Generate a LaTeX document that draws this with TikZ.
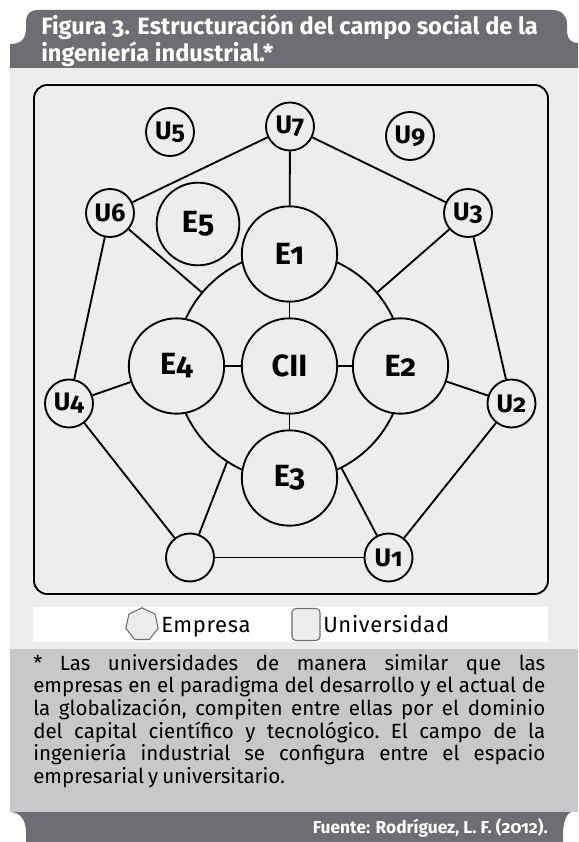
\documentclass[tikz,border=0pt]{standalone}
\usepackage{fontspec}
\setmainfont{Fira Sans}[Numbers=OldStyle]
\newfontfamily\notefont{Fira Sans}[Numbers=OldStyle, WordSpace={0.75,1,0.45}]
\usetikzlibrary{shapes.geometric}

\definecolor{bandGray}{RGB}{109,110,113}
\definecolor{panelGray}{RGB}{236,237,236}
\definecolor{noteGray}{RGB}{200,200,202}
\definecolor{keyGray}{RGB}{110,110,110}

\begin{document}
\begin{tikzpicture}[
  x=0.75pt, y=-0.75pt,
  every node/.style={align=center},
  university/.style={circle, draw, line width=1.4pt, fill=panelGray, inner sep=0pt, minimum size=36pt, font=\fontsize{19}{19}\selectfont\bfseries},
  company/.style={circle, draw, line width=1.4pt, fill=panelGray, inner sep=0pt, minimum size=71.5pt, font=\fontsize{23}{23}\selectfont\bfseries},
  ring/.style={circle, draw, line width=1.4pt, inner sep=0pt, minimum size=171pt},
  link/.style={line width=1.4pt},
  keyshape/.style={draw=keyGray, fill=panelGray, line width=0.8pt, inner sep=0pt},
  keytext/.style={anchor=base west, inner sep=0pt, font=\fontsize{16.5}{18}\selectfont\addfontfeatures{LetterSpace=3}}]

\useasboundingbox (0,0) rectangle (578,842);

% Title band, panels and source band
\fill[bandGray] (10,68) -- (10,44) .. controls (22,44) and (26,38) .. (26,28) -- (26,22)
  .. controls (26,14) and (30,10) .. (38,10) -- (552,10) .. controls (562,10) and (567,16) .. (567,24)
  -- (567,30) .. controls (567,40) and (572,43) .. (578,43) -- (578,68) -- cycle;
\fill[panelGray] (10,68) rectangle (578,649);
\fill[white] (33,607) rectangle (548,642);
\fill[noteGray] (10,649) rectangle (578,812);
\fill[bandGray] (10,812) .. controls (20,812) and (26,820) .. (26,832) -- (26,842) -- (563,842)
  -- (563,834) .. controls (563,822) and (567,812) .. (572,812) -- cycle;
\draw[line width=1.4pt, rounded corners=10pt] (34,85) rectangle (548,594);

\node[anchor=north west, inner sep=0pt, align=left, text=white, font=\fontsize{17.7}{17.2}\selectfont\bfseries] (title) at (41,15)
  {Figura 3. Estructuración del campo social de la\\ingeniería industrial.*};

% Field: the ring first, the circles over it
\node[ring] (ring) at (289.5,366) {};

\node[university] (universityFive) at (170,132) {U5};
\node[university] (universitySeven) at (290,126.5) {U7};
\node[university] (universityNine) at (410,136) {U9};
\node[university] (universitySix) at (110,213) {U6};
\node[university] (universityThree) at (468,213) {U3};
\node[university] (universityFour) at (69,403.5) {U4};
\node[university] (universityTwo) at (511.5,403.5) {U2};
\node[university] (universityOne) at (388.5,557.5) {U1};
\node[university] (universityBlank) at (190,557.5) {};

\node[company, minimum size=62pt] (companyFive) at (198,224) {E5};
\node[company] (companyOne) at (289.5,254) {E1};
\node[company] (cii) at (289.5,366) {CII};
\node[company] (companyFour) at (176.5,366) {E4};
\node[company] (companyTwo) at (400.5,366) {E2};
\node[company] (companyThree) at (289.5,478) {E3};

% Links
\draw[link] (universitySeven) -- (universitySix);
\draw[link] (universitySeven) -- (companyOne);
\draw[link] (universitySeven) -- (universityThree);
\draw[link] (universitySix) -- (ring.140);
\draw[link] (universityThree) -- (ring.40);
\draw[link] (universitySix) -- (universityFour);
\draw[link] (universityThree) -- (universityTwo);
\draw[link] (universityFour) -- (companyFour);
\draw[link] (universityTwo) -- (companyTwo);
\draw[link] (universityFour) -- (universityBlank);
\draw[link] (universityTwo) -- (universityOne);
\draw[link] (universityBlank) -- (ring.237);
\draw[link] (universityOne) -- (ring.297);
\draw[link] (universityBlank) -- (universityOne);
\draw[link] (companyOne) -- (cii);
\draw[link] (cii) -- (companyFour);
\draw[link] (cii) -- (companyTwo);
\draw[link] (cii) -- (companyThree);

% Key
\node[keyshape, regular polygon, regular polygon sides=7, minimum size=25pt] (companyKey) at (142,624.5) {};
\node[keytext] (companyLabel) at (161,632) {Empresa};
\node[keyshape, rectangle, rounded corners=3pt, minimum width=21pt, minimum height=24pt] (universityKey) at (306,624.5) {};
\node[keytext] (universityLabel) at (323,632) {Universidad};

% Note and source
\node[anchor=north west, inner sep=0pt, text width=384pt, align=justify, font=\notefont\fontsize{15.4}{17}\selectfont\frenchspacing] (note) at (33,654)
  {* Las universidades de manera similar que las\linebreak
   empresas en el paradigma del desarrollo y el actual de\linebreak
   la globalización, compiten entre ellas por el dominio\linebreak
   del capital científico y tecnológico. El campo de la\linebreak
   ingeniería industrial se configura entre el espacio\linebreak
   empresarial y universitario.};
\node[anchor=base east, inner sep=0pt, text=white, font=\fontsize{13}{15}\selectfont\bfseries] (source) at (548,833)
  {Fuente: Rodríguez, L. F. (2012).};

\end{tikzpicture}
\end{document}
